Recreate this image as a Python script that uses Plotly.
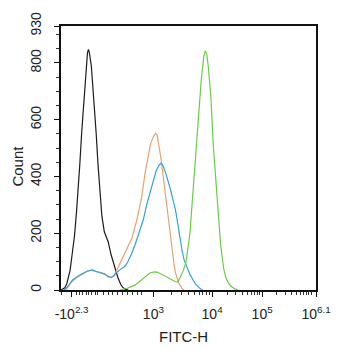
import math
import plotly.graph_objects as go

# Histogram overlays on a biexponential display scale (channel units 0-1060)
black_x = [0, 8, 16, 24, 32, 38, 44, 50, 56, 64, 70, 78, 86, 96, 104, 110, 114, 118, 126, 136,
           146, 154, 162, 170, 180, 196, 208, 216, 228, 236, 248, 256, 268, 280]
black_y = [0, 3, 8, 22, 45, 70, 110, 150, 190, 270, 330, 440, 555, 680, 790, 835, 848, 835, 790, 680,
           555, 440, 330, 260, 205, 170, 125, 100, 62, 45, 20, 10, 2, 0]

orange_x = [20, 36, 48, 64, 80, 96, 112, 124, 136, 148, 160, 172, 184, 196, 208, 220, 232, 244, 260,
            276, 296, 316, 336, 349, 363, 372, 384, 393, 400, 409, 416, 422, 429, 436, 443, 449, 456,
            463, 470, 476, 489, 503, 512]
orange_y = [0, 18, 32, 43, 52, 60, 67, 70, 68, 64, 62, 60, 55, 48, 45, 50, 70, 92, 118,
            145, 185, 250, 330, 410, 480, 515, 540, 552, 545, 503, 460, 420, 370, 320, 275, 240, 185,
            130, 90, 60, 25, 5, 0]

blue_x = [12, 24, 36, 48, 63, 76, 96, 108, 123, 132, 143, 156, 169, 182, 196, 209, 220, 229, 243,
          263, 276, 292, 309, 324, 343, 356, 376, 396, 408, 416, 424, 436, 456, 468, 476, 483, 492,
          503, 512, 523, 536, 549, 560, 576, 588]
blue_y = [0, 8, 22, 35, 44, 52, 61, 66, 69, 71, 66, 63, 61, 56, 47, 44, 50, 60, 70,
          82, 96, 125, 162, 202, 250, 300, 362, 421, 440, 447, 438, 410, 351, 310, 281, 246, 190,
          140, 105, 82, 55, 35, 20, 7, 0]

green_x = [244, 260, 276, 292, 309, 324, 343, 356, 369, 384, 396, 408, 423, 436, 449, 464, 476, 484,
           496, 509, 520, 536, 549, 560, 569, 583, 593, 600, 606, 612, 623, 633, 643, 652, 663, 676,
           686, 696, 708, 723, 736]
green_y = [0, 3, 6, 12, 18, 28, 42, 52, 60, 63, 64, 60, 53, 47, 42, 35, 29, 28,
           45, 70, 100, 200, 340, 460, 580, 740, 820, 843, 830, 790, 680, 510, 390, 270, 165, 75,
           42, 25, 12, 4, 0]

# Axis ticks
x_major_vals = [44, 384, 628, 836, 1060]
x_major_text = ["-10<sup>2.3</sup>", "10<sup>3</sup>", "10<sup>4</sup>", "10<sup>5</sup>", "10<sup>6.1</sup>"]
x_near_zero_minor = [0, 64, 76, 88, 104, 116, 128, 144, 152, 176, 196, 216, 236, 256, 276, 296, 316, 336]
y_major_vals = [0, 200, 400, 600, 800, 930]

x_minor = list(x_near_zero_minor)
for start, span in [(384, 244), (628, 208), (836, 204)]:
    for k in range(2, 11):
        x_minor.append(start + span * math.log10(k))

y_minor = [v for v in range(50, 930, 50) if v % 200 != 0]

fig = go.Figure()
series = [
    (black_x, black_y, "#1c1c1c"),
    (orange_x, orange_y, "#e3a472"),
    (blue_x, blue_y, "#33a3d3"),
    (green_x, green_y, "#6ccb4a"),
]
for xs, ys, col in series:
    fig.add_trace(go.Scatter(x=xs, y=ys, mode="lines",
                             line=dict(color=col, width=1.2), showlegend=False,
                             hoverinfo="skip"))

family = "Liberation Sans, Arial, sans-serif"
tick_font = dict(family=family, size=14, color="#222")
title_font = dict(family=family, size=15, color="#222")

fig.update_layout(
    width=343, height=350,
    margin=dict(l=61, r=17, t=25, b=60),
    paper_bgcolor="white", plot_bgcolor="white",
    font=tick_font,
    xaxis=dict(
        range=[0, 1060], showgrid=False, zeroline=False,
        showline=True, linecolor="#111", linewidth=1.5, mirror=True,
        ticks="outside", ticklen=5, tickwidth=1.2, tickcolor="#111",
        tickmode="array", tickvals=x_major_vals, ticktext=x_major_text,
        tickfont=tick_font, ticklabelstandoff=5,
        minor=dict(tickvals=x_minor, ticks="outside", ticklen=3, tickwidth=1, tickcolor="#333"),
    ),
    yaxis=dict(
        range=[0, 930], showgrid=False, zeroline=False,
        showline=True, linecolor="#111", linewidth=1.5, mirror=True,
        ticks="outside", ticklen=5, tickwidth=1.2, tickcolor="#111",
        tickmode="array", tickvals=y_major_vals, ticktext=[str(v) for v in y_major_vals],
        tickangle=-90, tickfont=tick_font, ticklabelstandoff=8,
        minor=dict(tickvals=y_minor, ticks="outside", ticklen=3, tickwidth=1, tickcolor="#333"),
    ),
    annotations=[
        dict(text="Count", xref="paper", yref="paper", x=-0.17, y=0.47,
             showarrow=False, textangle=-90, font=title_font, xanchor="center", yanchor="middle"),
        dict(text="FITC-H", xref="paper", yref="paper", x=0.48, y=-0.177,
             showarrow=False, font=title_font, xanchor="center", yanchor="middle"),
    ],
)

fig.write_html("out.html")
